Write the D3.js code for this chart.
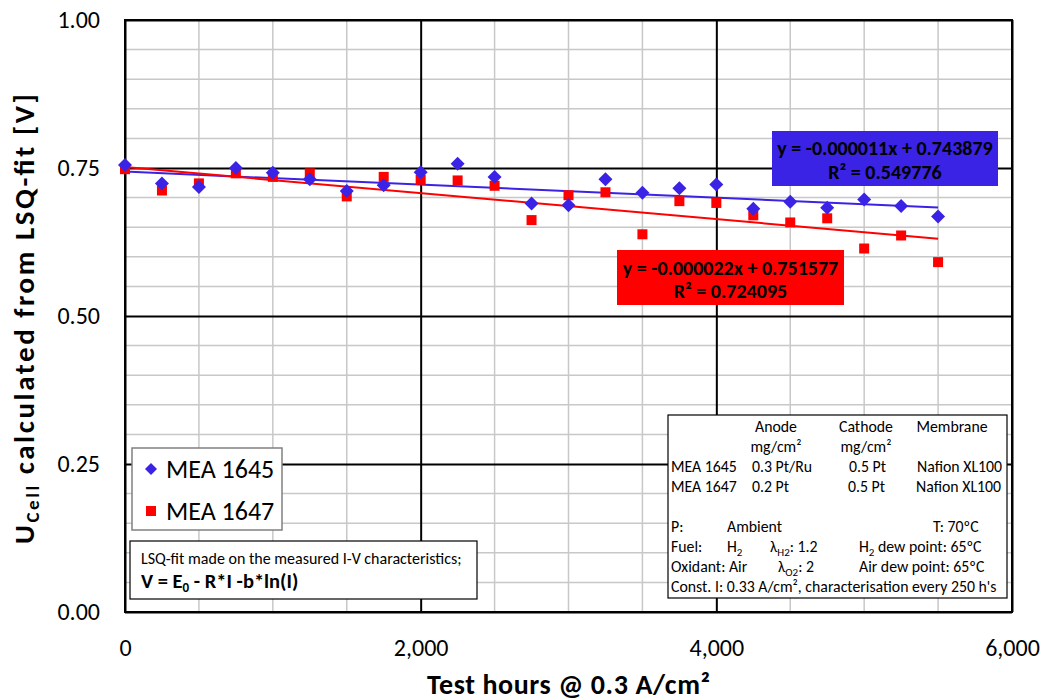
<!DOCTYPE html>
<html>
<head>
<meta charset="utf-8">
<script src="https://cdn.jsdelivr.net/npm/d3@7"></script>
<style>
  body { margin: 0; background: #fff; }
  text { font-family: Carlito, Calibri, Lato, "Open Sans", sans-serif; fill: #000; }
</style>
</head>
<body>
<div id="chart"></div>
<script>
// test hours, one characterisation every 250 h
const hours   = [0, 250, 500, 750, 1000, 1250, 1500, 1750, 2000, 2250, 2500, 2750,
                 3000, 3250, 3500, 3750, 4000, 4250, 4500, 4750, 5000, 5250, 5500];
const mea1645 = [0.755, 0.724, 0.718, 0.750, 0.742, 0.731, 0.711, 0.721, 0.743, 0.757, 0.735, 0.690,
                 0.687, 0.731, 0.708, 0.716, 0.722, 0.681, 0.693, 0.683, 0.697, 0.686, 0.668];
const mea1647 = [0.748, 0.712, 0.724, 0.741, 0.735, 0.741, 0.702, 0.735, 0.730, 0.729, 0.720, 0.662,
                 0.704, 0.709, 0.638, 0.694, 0.691, 0.670, 0.658, 0.665, 0.614, 0.636, 0.591];
const seriesNames = ["MEA 1645", "MEA 1647"];
const fitSlopes     = [-0.000011, -0.000022];
const fitIntercepts = [0.743879, 0.751577];
const fitR2         = ["0.549776", "0.724095"];
const xTicks = [0, 2000, 4000, 6000];
const yTicks = [0, 0.25, 0.5, 0.75, 1.0];

const blue = "#3a23e4";
const red  = "#ff0000";

const width  = 1052;
const height = 700;
const margin = { top: 20, right: 40, bottom: 88, left: 125 };
const innerWidth  = width  - margin.left - margin.right;
const innerHeight = height - margin.top  - margin.bottom;

const svg = d3.select("#chart")
  .append("svg")
  .attr("width", width)
  .attr("height", height);

const chart = svg.append("g")
  .attr("transform", `translate(${margin.left}, ${margin.top})`);

const xScale = d3.scaleLinear().domain([0, 6000]).range([0, innerWidth]);
const yScale = d3.scaleLinear().domain([0, 1]).range([innerHeight, 0]);

// minor grid
const xMinor = d3.range(500, 6000, 500).filter(v => v % 2000 !== 0);
const yMinor = d3.range(1, 20).map(i => i * 0.05).filter((v, i) => (i + 1) % 5 !== 0);

chart.append("g").selectAll("line")
  .data(xMinor)
  .join("line")
    .attr("x1", d => xScale(d)).attr("x2", d => xScale(d))
    .attr("y1", 0).attr("y2", innerHeight)
    .attr("stroke", "#c8c8c8").attr("stroke-width", 1.5);

chart.append("g").selectAll("line")
  .data(yMinor)
  .join("line")
    .attr("x1", 0).attr("x2", innerWidth)
    .attr("y1", d => yScale(d)).attr("y2", d => yScale(d))
    .attr("stroke", "#c8c8c8").attr("stroke-width", 1.5);

// major grid via axes
chart.append("g")
  .call(d3.axisBottom(xScale).tickValues(xTicks).tickSize(innerHeight).tickFormat(""))
  .call(g => g.select(".domain").remove())
  .call(g => g.selectAll("text").remove())
  .selectAll("line").attr("stroke", "#000").attr("stroke-width", 2);

chart.append("g")
  .call(d3.axisLeft(yScale).tickValues(yTicks).tickSize(-innerWidth).tickFormat(""))
  .call(g => g.select(".domain").remove())
  .call(g => g.selectAll("text").remove())
  .selectAll("line").attr("stroke", "#000").attr("stroke-width", 2);

chart.append("rect")
  .attr("width", innerWidth).attr("height", innerHeight)
  .attr("fill", "none").attr("stroke", "#000").attr("stroke-width", 2);

// tick labels
chart.append("g")
  .attr("transform", `translate(0, ${innerHeight})`)
  .call(d3.axisBottom(xScale).tickValues(xTicks).tickSize(0).tickPadding(27).tickFormat(d3.format(",")))
  .call(g => g.select(".domain").remove())
  .selectAll("text")
    .style("font-size", "24px").style("font-family", null);

chart.append("g")
  .call(d3.axisLeft(yScale).tickValues(yTicks).tickSize(0).tickPadding(25).tickFormat(d3.format(".2f")))
  .call(g => g.select(".domain").remove())
  .selectAll("text")
    .style("font-size", "24px").style("font-family", null);

chart.selectAll(".tick text").attr("fill", "#000");

// trend lines
const series = [
  { name: seriesNames[0], values: mea1645, color: blue, slope: fitSlopes[0], b: fitIntercepts[0] },
  { name: seriesNames[1], values: mea1647, color: red,  slope: fitSlopes[1], b: fitIntercepts[1] }
];

series.forEach(s => {
  const x0 = d3.min(hours), x1 = d3.max(hours);
  chart.append("line")
    .attr("x1", xScale(x0)).attr("y1", yScale(s.slope * x0 + s.b))
    .attr("x2", xScale(x1)).attr("y2", yScale(s.slope * x1 + s.b))
    .attr("stroke", s.color).attr("stroke-width", 2);
});

// markers
chart.append("g").selectAll("rect")
  .data(hours.map((h, i) => [h, mea1647[i]]))
  .join("rect")
    .attr("x", d => xScale(d[0]) - 5)
    .attr("y", d => yScale(d[1]) - 5)
    .attr("width", 10).attr("height", 10)
    .attr("fill", red);

chart.append("g").selectAll("path")
  .data(hours.map((h, i) => [h, mea1645[i]]))
  .join("path")
    .attr("transform", d => `translate(${xScale(d[0])}, ${yScale(d[1])})`)
    .attr("d", "M0,-7L7,0L0,7L-7,0Z")
    .attr("fill", blue);

// helper for text with subscripts
function richText(sel, parts, subSize, shift = 4) {
  parts.forEach(p => {
    if (p.sub) {
      sel.append("tspan").attr("dy", shift).style("font-size", subSize).text(p.t);
    } else {
      const ts = sel.append("tspan").text(p.t);
      if (p.after) ts.attr("dy", -shift);
    }
  });
}

// equation boxes
const eqBoxes = [
  { x: 772, y: 131, w: 226, h: 55, color: blue, i: 0, b1: 155, b2: 179 },
  { x: 617, y: 250, w: 227, h: 55, color: red,  i: 1, b1: 275, b2: 298 }
];
eqBoxes.forEach(e => {
  svg.append("rect")
    .attr("x", e.x).attr("y", e.y).attr("width", e.w).attr("height", e.h)
    .attr("fill", e.color);
  svg.append("text")
    .attr("x", e.x + e.w / 2).attr("y", e.b1)
    .attr("text-anchor", "middle")
    .style("font-size", "20px").style("font-weight", "bold").attr("fill", "#fff")
    .text(`y = ${fitSlopes[e.i].toFixed(6)}x + ${fitIntercepts[e.i].toFixed(6)}`);
  svg.append("text")
    .attr("x", e.x + e.w / 2).attr("y", e.b2)
    .attr("text-anchor", "middle")
    .style("font-size", "20px").style("font-weight", "bold").attr("fill", "#fff")
    .text(`R² = ${fitR2[e.i]}`);
});

// legend
const legend = svg.append("g").attr("transform", "translate(132, 448)");
legend.append("rect")
  .attr("width", 150).attr("height", 82)
  .attr("fill", "#fff").attr("stroke", "#808080").attr("stroke-width", 1.5);
legend.append("path")
  .attr("transform", "translate(19, 21)")
  .attr("d", "M0,-6L6,0L0,6L-6,0Z")
  .attr("fill", blue);
legend.append("rect")
  .attr("x", 14).attr("y", 58).attr("width", 10).attr("height", 10)
  .attr("fill", red);
legend.selectAll(".lbl")
  .data(seriesNames)
  .join("text")
    .attr("x", 34)
    .attr("y", (d, i) => 30 + i * 42)
    .style("font-size", "26px")
    .text(d => d);

// LSQ note
const note = svg.append("g").attr("transform", "translate(130, 541)");
note.append("rect")
  .attr("width", 347).attr("height", 58)
  .attr("fill", "#fff").attr("stroke", "#000").attr("stroke-width", 1.2);
note.append("text")
  .attr("x", 11).attr("y", 23)
  .style("font-size", "16px")
  .text("LSQ-fit made on the measured I-V characteristics;");
richText(
  note.append("text").attr("x", 11).attr("y", 47).style("font-size", "20.5px").style("font-weight", "bold"),
  [{ t: "V = E" }, { t: "0", sub: true }, { t: " - R*I -b*ln(I)", after: true }],
  "13px"
);

// info box
const info = svg.append("g").attr("transform", "translate(668, 415)");
info.append("rect")
  .attr("width", 339).attr("height", 183)
  .attr("fill", "#fff").attr("stroke", "#000").attr("stroke-width", 1.2);

const infoRows = [
  { y: 17,  cells: [{ x: 108, a: "middle", p: [{ t: "Anode" }] },
                    { x: 198, a: "middle", p: [{ t: "Cathode" }] },
                    { x: 284, a: "middle", p: [{ t: "Membrane" }] }] },
  { y: 37,  cells: [{ x: 108, a: "middle", p: [{ t: "mg/cm²" }] },
                    { x: 198, a: "middle", p: [{ t: "mg/cm²" }] }] },
  { y: 57,  cells: [{ x: 3, p: [{ t: "MEA 1645" }] }, { x: 84, p: [{ t: "0.3 Pt/Ru" }] },
                    { x: 181, p: [{ t: "0.5 Pt" }] }, { x: 249, p: [{ t: "Nafion XL100" }] }] },
  { y: 77,  cells: [{ x: 3, p: [{ t: "MEA 1647" }] }, { x: 84, p: [{ t: "0.2 Pt" }] },
                    { x: 180, p: [{ t: "0.5 Pt" }] }, { x: 248, p: [{ t: "Nafion XL100" }] }] },
  { y: 117, cells: [{ x: 3, p: [{ t: "P:" }] }, { x: 59, p: [{ t: "Ambient" }] },
                    { x: 265, p: [{ t: "T: 70ºC" }] }] },
  { y: 137, cells: [{ x: 3, p: [{ t: "Fuel:" }] }, { x: 59, p: [{ t: "H" }, { t: "2", sub: true }] },
                    { x: 102, p: [{ t: "λ" }, { t: "H2", sub: true }, { t: ": 1.2", after: true }] },
                    { x: 191, p: [{ t: "H" }, { t: "2", sub: true }, { t: " dew point: 65ºC", after: true }] }] },
  { y: 157, cells: [{ x: 3, p: [{ t: "Oxidant: Air" }] },
                    { x: 110, p: [{ t: "λ" }, { t: "O2", sub: true }, { t: ": 2", after: true }] },
                    { x: 191, p: [{ t: "Air dew point: 65ºC" }] }] },
  { y: 177, cells: [{ x: 3, p: [{ t: "Const. I: 0.33 A/cm², characterisation every 250 h's" }] }] }
];
infoRows.forEach(r => {
  r.cells.forEach(c => {
    const t = info.append("text")
      .attr("x", c.x).attr("y", r.y)
      .attr("text-anchor", c.a || "start")
      .style("font-size", "15.8px");
    richText(t, c.p, "11px");
  });
});

// axis titles
svg.append("text")
  .attr("x", margin.left + innerWidth / 2)
  .attr("y", 694)
  .attr("text-anchor", "middle")
  .attr("textLength", 283)
  .attr("lengthAdjust", "spacing")
  .style("font-size", "28px").style("font-weight", "bold")
  .text("Test hours @ 0.3 A/cm²");

const yTitle = svg.append("text")
  .attr("transform", `translate(34, ${margin.top + innerHeight / 2 + 3}) rotate(-90)`)
  .attr("text-anchor", "middle")
  .attr("textLength", 450)
  .attr("lengthAdjust", "spacing")
  .style("font-size", "29px").style("font-weight", "bold");
richText(yTitle, [{ t: "U" }, { t: "Cell", sub: true }, { t: " calculated from LSQ-fit [V]", after: true }], "19px", 5);
</script>
</body>
</html>
